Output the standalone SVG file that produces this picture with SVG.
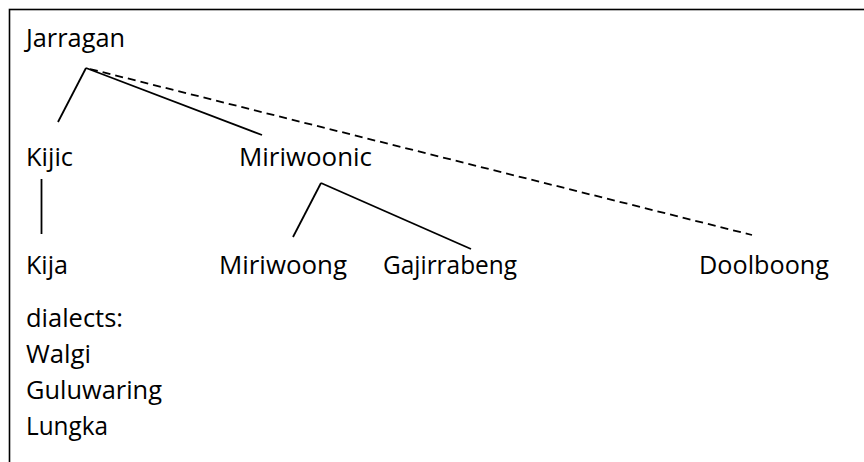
<svg xmlns="http://www.w3.org/2000/svg" width="864" height="462" viewBox="0 0 864 462">
<style>
text{font-family:"Open Sans","Liberation Sans",sans-serif;font-size:25px;fill:#000}
.l{stroke:#000;stroke-width:1.8;fill:none}
.d{stroke:#000;stroke-width:1.8;fill:none;stroke-dasharray:8 5}
</style>
<rect x="0" y="0" width="864" height="462" fill="#fff"/>
<rect x="9.5" y="9.5" width="900" height="500" fill="none" stroke="#000" stroke-width="1.6"/>
<g id="connectors">
<line class="l" x1="86" y1="68" x2="58" y2="122"/>
<line class="l" x1="86" y1="68" x2="262" y2="135"/>
<line class="d" x1="90" y1="69" x2="752" y2="235"/>
<line class="l" x1="41.5" y1="179" x2="41.5" y2="234"/>
<line class="l" x1="321" y1="183" x2="293" y2="237"/>
<line class="l" x1="321" y1="183" x2="471" y2="249"/>
</g>
<g id="jarragan"><text x="26" y="47" textLength="99" lengthAdjust="spacingAndGlyphs">Jarragan</text></g>
<g id="kijic"><text x="26" y="166" textLength="47" lengthAdjust="spacingAndGlyphs">Kijic</text></g>
<g id="miriwoonic"><text x="239" y="166" textLength="133" lengthAdjust="spacingAndGlyphs">Miriwoonic</text></g>
<g id="kija"><text x="26" y="274" textLength="42" lengthAdjust="spacingAndGlyphs">Kija</text></g>
<g id="miriwoong"><text x="219" y="274" textLength="128" lengthAdjust="spacingAndGlyphs">Miriwoong</text></g>
<g id="gajirrabeng"><text x="383" y="274" textLength="134" lengthAdjust="spacingAndGlyphs">Gajirrabeng</text></g>
<g id="doolboong"><text x="699" y="274" textLength="130" lengthAdjust="spacingAndGlyphs">Doolboong</text></g>
<g id="dialects">
<text x="26" y="327" textLength="97" lengthAdjust="spacingAndGlyphs">dialects:</text>
<text x="26" y="363" textLength="65" lengthAdjust="spacingAndGlyphs">Walgi</text>
<text x="26" y="399" textLength="136" lengthAdjust="spacingAndGlyphs">Guluwaring</text>
<text x="26" y="435" textLength="82" lengthAdjust="spacingAndGlyphs">Lungka</text>
</g>
</svg>
